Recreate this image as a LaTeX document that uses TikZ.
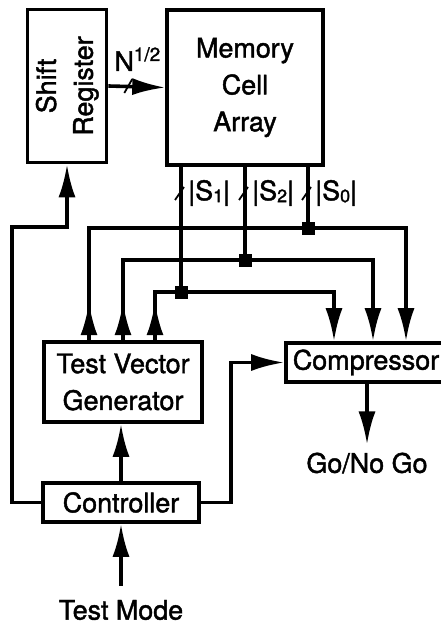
\documentclass[tikz,border=0pt]{standalone}
\usepackage{fontspec}
\setmainfont{TeX Gyre Heros}
\newfontfamily\medfont{TeX Gyre Heros}[BoldFont={TeX Gyre Heros}, BoldFeatures={FakeBold=1.6}]
\usetikzlibrary{arrows.meta}

\tikzset{
  blk/.style={draw, line width=3.6bp, inner sep=0pt, align=center,
    font=\medfont\bfseries\fontsize{27}{37}\selectfont},
  lbl/.style={inner sep=0pt, font=\medfont\bfseries\fontsize{27}{37}\selectfont},
  wire/.style={line width=3.6bp},
  sig/.style={wire, -{Latex[length=33bp,width=17bp]}},
  tick/.style={line width=1.8bp},
  jdot/.style={fill, minimum size=13bp, inner sep=0pt},
}

\begin{document}
\begin{tikzpicture}[x=1bp,y=-1bp]
  \useasboundingbox (0,0) rectangle (441,626);
  % blocks
  \node[blk, minimum width=79bp, minimum height=153bp] (sr) at (67,86)
    {\rotatebox{90}{\begin{tabular}{@{}c@{}}Shift\\Register\end{tabular}}};
  \node[blk, minimum width=156bp, minimum height=155bp] (mem) at (245,87.5)
    {Memory\\Cell\\Array};
  \node[blk, minimum width=158bp, minimum height=80bp] (tvg) at (123,382)
    {Test Vector\\Generator};
  \node[blk, minimum width=160bp, minimum height=39bp] (comp) at (366,362.5)
    {Compressor};
  \node[blk, minimum width=156bp, minimum height=39bp] (ctrl) at (121,502.5)
    {Controller};
  \node[lbl] (mode) at (121,610) {Test Mode};
  \node[lbl] (gng) at (367,463) {Go/No Go};

  % junctions on the buses
  \coordinate (j1) at (181,292);
  \coordinate (j2) at (245,260);
  \coordinate (j0) at (308,228);
  \coordinate (lc) at (12,227);

  % shift register to memory
  \draw[sig] (sr.east) -- (mem.west);
  \coordinate (nm) at ([xshift=20bp]sr.east);
  \draw[tick] ([xshift=-4bp,yshift=-7bp]nm) -- ([xshift=4bp,yshift=7bp]nm);
  \node[lbl, anchor=base west] (nlab) at ([xshift=6bp,yshift=15bp]sr.east)
    {N\raisebox{10bp}{\fontsize{19}{19}\selectfont 1/2}};

  % buses from the generator to the compressor
  \draw[sig] ([xshift=-34bp]tvg.north) |- (j0) -| ([xshift=40bp]comp.north);
  \draw[sig] (tvg.north) |- (j2) -| ([xshift=7bp]comp.north);
  \draw[sig] ([xshift=32bp]tvg.north) |- (j1) -| ([xshift=-32bp]comp.north);
  \foreach \dx in {-34,0,32}
    \draw[sig] ([xshift=\dx bp]tvg.north) -- ++(0,-38);

  % memory outputs
  \foreach \j/\t in {j1/1,j2/2,j0/0}{
    \draw[wire] (\j |- mem.south) -- (\j);
    \node[jdot] (d\t) at (\j) {};
    \coordinate (m\t) at (\j |- 0,193);
    \draw[tick] ([xshift=-6bp,yshift=-7bp]m\t) -- ([xshift=3bp,yshift=6bp]m\t);
    \node[lbl, anchor=west] (s\t) at ([xshift=7bp]m\t)
      {\textbar S\lower2bp\hbox{\fontsize{18}{18}\selectfont\t}\textbar};
  }

  % controller
  \draw[sig] (ctrl.west) -| (lc) -| (sr.south);
  \draw[sig] (ctrl.east) -- ++(30,0) |- (comp.west);
  \draw[sig] (ctrl.north) -- (ctrl.north |- tvg.south);
  \draw[sig] ([yshift=14bp]mode.north) -- (ctrl.south);
  \draw[sig] (gng.north |- comp.south) -- ([yshift=8bp]gng.north);
\end{tikzpicture}
\end{document}
